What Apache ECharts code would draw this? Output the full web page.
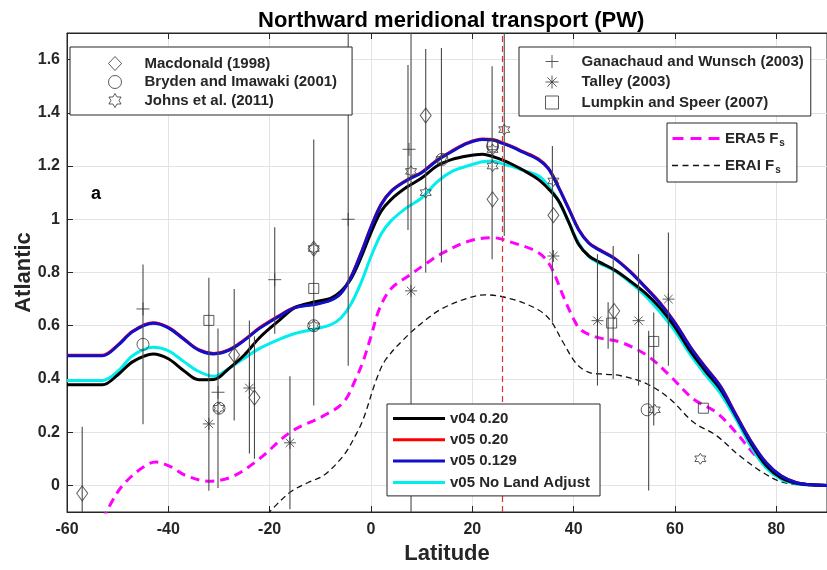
<!DOCTYPE html>
<html><head><meta charset="utf-8">
<script src="https://cdn.jsdelivr.net/npm/echarts@6/dist/echarts.min.js"></script>
<style>html,body{margin:0;padding:0;background:#fff}#c{width:827px;height:570px}</style>
</head><body><div id="c"></div>
<script>
const FONT = '"Liberation Sans", Arial, Helvetica, sans-serif';
const TXT = '#262626';

// model curves (shared latitude grid)
const modelLat = [-60,-53,-50,-47,-43,-40,-37,-34,-31,-28,-25,-22,-18,-15,-11,-8,-6,-4,-2,0,2,4,7,10,13,16,19,22,24,26,28,30,33,35,37,39,41,43,45,48,51,54,57,60,63,66,69,72,75,78,81,84,87,90];
const v04_020 = [0.378,0.378,0.415,0.465,0.494,0.476,0.432,0.397,0.398,0.44,0.49,0.555,0.622,0.668,0.69,0.703,0.728,0.775,0.855,0.95,1.03,1.075,1.12,1.155,1.2,1.225,1.238,1.244,1.236,1.222,1.205,1.185,1.15,1.115,1.07,0.99,0.905,0.862,0.84,0.81,0.77,0.725,0.668,0.595,0.505,0.43,0.36,0.262,0.158,0.075,0.028,0.008,0.002,0];
const v05_020 = [0.489,0.489,0.527,0.580,0.611,0.594,0.552,0.510,0.496,0.510,0.547,0.592,0.639,0.670,0.682,0.697,0.722,0.782,0.872,0.972,1.057,1.107,1.147,1.177,1.222,1.257,1.287,1.302,1.300,1.287,1.272,1.254,1.227,1.192,1.122,1.042,0.962,0.912,0.887,0.855,0.807,0.749,0.687,0.612,0.522,0.445,0.372,0.267,0.166,0.085,0.035,0.01,0.002,0];
const v05_0129 = [0.487,0.487,0.525,0.578,0.609,0.592,0.55,0.508,0.494,0.508,0.545,0.59,0.637,0.668,0.68,0.695,0.72,0.78,0.87,0.97,1.055,1.105,1.145,1.175,1.22,1.255,1.285,1.3,1.298,1.285,1.27,1.252,1.225,1.19,1.12,1.04,0.96,0.91,0.885,0.853,0.805,0.747,0.685,0.61,0.52,0.443,0.37,0.265,0.165,0.085,0.035,0.01,0.002,0];
const v05_noLand = [0.394,0.394,0.428,0.488,0.519,0.506,0.466,0.428,0.41,0.44,0.478,0.515,0.55,0.571,0.588,0.603,0.628,0.68,0.76,0.86,0.945,0.995,1.043,1.08,1.14,1.18,1.2,1.216,1.219,1.208,1.198,1.184,1.164,1.125,1.07,0.99,0.91,0.86,0.835,0.808,0.765,0.715,0.652,0.58,0.492,0.416,0.345,0.25,0.145,0.065,0.022,0.006,0.001,0];

// reanalysis surface-flux estimates
const era5Lat = [-53,-50.5,-48.4,-45,-42.5,-39.5,-36.7,-32,-27.6,-22.4,-15.9,-9.3,-5.4,-3,-1.5,0,1.7,4,7.6,11,14,19.3,23.9,27.8,33,35.4,37.9,40,41.4,44.7,49.3,54.5,59,63.6,68.1,72,75.9,80.5,85,90];
const era5Val = [-0.13,-0.04,0.013,0.068,0.088,0.07,0.038,0.016,0.031,0.094,0.2,0.262,0.313,0.40,0.47,0.56,0.665,0.74,0.79,0.835,0.872,0.918,0.931,0.913,0.875,0.825,0.713,0.625,0.585,0.556,0.538,0.488,0.412,0.325,0.275,0.2,0.112,0.038,0.005,0];
const eraiLat = [-20.5,-19.4,-15.9,-12.5,-9.3,-5.4,-3,-1.5,1.1,3,7.6,11,14.1,19.3,22.6,27.8,33,35.4,37.9,40.6,43.3,46,49.3,54.5,59,63.6,68.1,72.7,77.2,81,85,90];
const eraiVal = [-0.11,-0.087,-0.025,0.01,0.038,0.113,0.19,0.25,0.4,0.475,0.57,0.625,0.665,0.705,0.716,0.70,0.66,0.62,0.538,0.456,0.423,0.418,0.412,0.381,0.325,0.238,0.188,0.112,0.05,0.013,0.002,0];

// observations
const macdonaldLat = [-57,-27,-23,-11.3,10.8,24,36,48];
const macdonaldVal = [-0.03,0.49,0.33,0.89,1.39,1.075,1.015,0.655];
const brydenLat = [-45,-30,-11.3,14,24,54.5];
const brydenVal = [0.53,0.29,0.60,1.225,1.275,0.284];
const johnsLat = [-30,-11.3,-11.3,7.9,10.8,14,24,24,26.3,36,56,65];
const johnsVal = [0.29,0.89,0.60,1.18,1.10,1.225,1.262,1.2,1.337,1.144,0.284,0.10];
const ganachaudLat = [-45,-30.2,-19,-4.5,7.5];
const ganachaudVal = [0.663,0.35,0.773,1.0,1.263];
const talleyLat = [-32,-24,-16,7.9,36,44.7,52.8,58.7];
const talleyVal = [0.231,0.366,0.16,0.731,0.862,0.619,0.619,0.70];
const lumpkinLat = [-32,-11.3,24,47.5,55.8,65.6];
const lumpkinVal = [0.62,0.74,1.28,0.61,0.541,0.29];

// error bars
const errLat = [-57,-45,-32,-30.2,-27,-24,-23,-19,-16,-11.3,-4.5,7.3,7.9,10.8,13.9,23.9,26.3,35.8,44.7,46.8,47.8,52.8,54.8,55.8,58.7];
const errLo  = [-0.28,0.23,-0.02,-0.01,0.244,0.12,0.10,0.57,-0.09,0.30,0.45,0.96,-0.2,0.80,0.838,0.85,0.937,0.613,0.375,0.513,0.40,0.375,-0.019,0.225,0.45];
const errHi  = [0.22,0.83,0.78,0.59,0.738,0.62,0.56,0.97,0.41,1.30,1.8,1.58,1.8,1.64,1.644,1.575,1.8,1.275,0.869,0.688,0.90,0.869,0.581,0.65,0.95];

const rapidLat = 26;
const xTickStep = 20;

const zip = (a, b) => a.map((x, i) => [x, b[i]]);

const SYM_PLUS = 'path://M0,5L10,5M5,0L5,10';
const SYM_AST = 'path://M0,5L10,5M5,0L5,10M1.5,1.5L8.5,8.5M1.5,8.5L8.5,1.5';
const SYM_HEX = 'path://M5,0L6.443,2.5L9.33,2.5L7.887,5L9.33,7.5L6.443,7.5L5,10L3.557,7.5L0.67,7.5L2.113,5L0.67,2.5L3.557,2.5Z';
const ICON_DASH_BIG = 'path://M0,0h11v3h-11zM18,0h11v3h-11zM36,0h11v3h-11z';
const ICON_DASH_SMALL = 'path://M0,0h6v1.5h-6zM10.5,0h6v1.5h-6zM21,0h6v1.5h-6zM31.5,0h6v1.5h-6zM42,0h6v1.5h-6z';

const markStyle = { color: 'rgba(0,0,0,0)', borderColor: '#333', borderWidth: 1 };
function obs(name, lat, val, symbol, size) {
  return { name, type: 'scatter', data: zip(lat, val), symbol, symbolSize: size,
    itemStyle: markStyle, z: 6, silent: true };
}
function model(name, val, color, z) {
  return { name, type: 'line', data: zip(modelLat, val), showSymbol: false, symbol: 'none',
    smooth: 0.35, lineStyle: { color, width: 3 }, itemStyle: { color }, z, silent: true };
}

const legendText = {
  fontSize: 15, fontWeight: 'bold', color: TXT, fontFamily: FONT, lineHeight: 17,
  rich: {
    t: { fontSize: 15, fontWeight: 'bold', color: TXT, fontFamily: FONT },
    s: { fontSize: 10, fontWeight: 'bold', color: TXT, fontFamily: FONT, padding: [9, 0, 0, 1] }
  }
};
const legendBase = { orient: 'vertical', selectedMode: false, borderColor: TXT, borderWidth: 1,
  backgroundColor: '#fff', borderRadius: 0, textStyle: legendText, z: 20 };
const markLegendText = Object.assign({}, legendText, { padding: [0, 0, 0, 18] });

const chart = echarts.init(document.getElementById('c'), null, { renderer: 'canvas' });
chart.setOption({
  animation: false,
  backgroundColor: '#fff',
  title: { text: 'Northward meridional transport (PW)', left: 253, top: 5,
    textStyle: { fontSize: 22, fontWeight: 'bold', color: '#000', fontFamily: FONT } },
  graphic: [{ type: 'text', left: 91, top: 185,
    style: { text: 'a', font: 'bold 18px ' + FONT, fill: '#000' } }],
  grid: { left: 67, right: -8, top: 33, bottom: 58, show: true, borderColor: TXT, borderWidth: 1, backgroundColor: '#fff' },
  xAxis: [{
    type: 'value', min: -60, max: 90, interval: xTickStep,
    name: 'Latitude', nameLocation: 'middle', nameGap: 24,
    nameTextStyle: { fontSize: 22, fontWeight: 'bold', color: TXT, fontFamily: FONT },
    axisLine: { show: true, onZero: false, lineStyle: { color: TXT } },
    axisTick: { show: true, inside: true, length: 6, lineStyle: { color: TXT } },
    axisLabel: { fontSize: 16, fontWeight: 'bold', color: TXT, fontFamily: FONT, margin: 10, showMaxLabel: false },
    splitLine: { show: true, lineStyle: { color: '#e3e3e3', width: 1 } }
  }, {
    type: 'value', min: -60, max: 90, interval: xTickStep, position: 'top',
    axisLine: { show: true, onZero: false, lineStyle: { color: TXT } },
    axisTick: { show: true, inside: true, length: 6, lineStyle: { color: TXT } },
    axisLabel: { show: false }, splitLine: { show: false }
  }],
  yAxis: {
    type: 'value', min: -0.1, max: 1.7, splitNumber: 9,
    name: 'Atlantic', nameLocation: 'middle', nameGap: 32, nameMoveOverlap: false,
    nameTextStyle: { fontSize: 22, fontWeight: 'bold', color: TXT, fontFamily: FONT },
    axisLine: { show: true, onZero: false, lineStyle: { color: TXT } },
    axisTick: { show: true, inside: true, length: 6, lineStyle: { color: TXT } },
    axisLabel: { fontSize: 16, fontWeight: 'bold', color: TXT, fontFamily: FONT, margin: 7,
      showMinLabel: false, showMaxLabel: false },
    splitLine: { show: true, lineStyle: { color: '#e3e3e3', width: 1 } }
  },
  legend: [
    Object.assign({}, legendBase, {
      data: ['Macdonald (1998)', 'Bryden and Imawaki (2001)', 'Johns et al. (2011)'],
      left: 70, top: 47, padding: [8, 15, 6, 38], itemGap: 1.5, itemWidth: 13, itemHeight: 14,
      itemStyle: { borderWidth: 1 }, textStyle: markLegendText
    }),
    Object.assign({}, legendBase, {
      data: ['Ganachaud and Wunsch (2003)', 'Talley (2003)', 'Lumpkin and Speer (2007)'],
      left: 519, top: 47, padding: [6, 7, 5, 26], itemGap: 3.5, itemWidth: 13, itemHeight: 13,
      itemStyle: { borderWidth: 1 }, textStyle: markLegendText
    }),
    Object.assign({}, legendBase, {
      data: [{ name: 'ERA5 F_s', icon: ICON_DASH_BIG }, { name: 'ERAI F_s', icon: ICON_DASH_SMALL }],
      left: 667, top: 123, padding: [7, 12, 7, 5], itemGap: 9, itemWidth: 48, itemHeight: 3,
      formatter: n => '{t|' + n.replace('_s', '') + '}{s|s}'
    }),
    Object.assign({}, legendBase, {
      data: [{ name: 'v04 0.20', icon: 'rect' }, { name: 'v05 0.20', icon: 'rect' },
             { name: 'v05 0.129', icon: 'rect' }, { name: 'v05 No Land Adjust', icon: 'rect' }],
      left: 387, top: 404, padding: [6, 10, 5, 6], itemGap: 4.3, itemWidth: 52, itemHeight: 3
    })
  ],
  series: [
    { name: 'ERA5 F_s', type: 'line', data: zip(era5Lat, era5Val), showSymbol: false, symbol: 'none', smooth: 0.35,
      lineStyle: { color: '#ff00ff', width: 3, type: [9, 6] }, itemStyle: { color: '#ff00ff' }, z: 3, silent: true },
    { name: 'ERAI F_s', type: 'line', data: zip(eraiLat, eraiVal), showSymbol: false, symbol: 'none', smooth: 0.35,
      lineStyle: { color: '#111', width: 1.3, type: [6, 4] }, itemStyle: { color: '#111' }, z: 3, silent: true,
      markLine: { silent: true, symbol: ['none', 'none'], label: { show: false }, z: 7,
        lineStyle: { color: '#e03030', type: [6, 4], width: 1.2, opacity: 1 }, data: [{ xAxis: rapidLat }] } },
    model('v05 No Land Adjust', v05_noLand, '#00eeee', 4),
    model('v04 0.20', v04_020, '#000000', 5),
    model('v05 0.20', v05_020, '#ff0000', 4),
    model('v05 0.129', v05_0129, '#1010cc', 5),
    { type: 'custom', name: 'err', data: errLat.map((x, i) => [x, errLo[i], errHi[i]]),
      encode: { x: 0, y: [1, 2] }, clip: true, z: 6, silent: true,
      renderItem: (params, api) => {
        const p1 = api.coord([api.value(0), api.value(1)]);
        const p2 = api.coord([api.value(0), api.value(2)]);
        return { type: 'line', shape: { x1: p1[0], y1: p1[1], x2: p2[0], y2: p2[1] },
          style: { stroke: '#4a4a4a', lineWidth: 1.1 } };
      } },
    obs('Macdonald (1998)', macdonaldLat, macdonaldVal, 'diamond', [11, 15]),
    obs('Bryden and Imawaki (2001)', brydenLat, brydenVal, 'circle', 12),
    obs('Johns et al. (2011)', johnsLat, johnsVal, SYM_HEX, 11),
    obs('Ganachaud and Wunsch (2003)', ganachaudLat, ganachaudVal, SYM_PLUS, 13),
    obs('Talley (2003)', talleyLat, talleyVal, SYM_AST, 12),
    obs('Lumpkin and Speer (2007)', lumpkinLat, lumpkinVal, 'rect', 10)
  ]
});
</script></body></html>
